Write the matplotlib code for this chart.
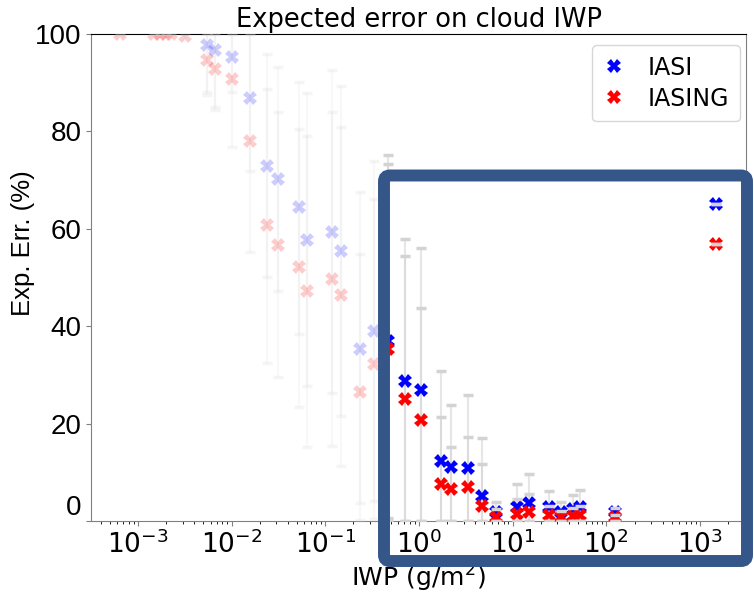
import numpy as np
import matplotlib.pyplot as plt
from matplotlib.patches import FancyBboxPatch

nan = np.nan
# IWP bin centres (g/m2) and expected error (%) for the two instruments
iwp = [6.5e-4, 1.48e-3, 1.71e-3, 1.99e-3, 2.24e-3, 3.22e-3, 5.53e-3, 6.73e-3,
       1.00e-2, 1.59e-2, 2.36e-2, 3.13e-2, 5.18e-2, 6.40e-2, 0.118, 0.149,
       0.235, 0.335, 0.465, 0.705, 1.06, 1.71, 2.22, 3.30, 4.71, 6.71,
       11.25, 14.96, 24.3, 32.4, 44.1, 52.0, 125.0, 1472.0]
iasi = [nan, nan, nan, nan, nan, nan, 97.7, 96.8, 95.2, 86.9, 72.9, 70.3,
        64.4, 57.8, 59.4, 55.4, 35.3, 39.1, 37.0, 28.8, 27.0, 12.3, 11.0,
        10.9, 5.1, 1.9, 2.9, 3.8, 2.8, 1.9, 2.4, 2.9, 1.9, 65.2]
iasing = [100, 100, 100, 100, 100, 99.5, 94.6, 92.8, 90.7, 78.1, 60.7, 56.6,
          52.1, 47.2, 49.8, 46.4, 26.4, 32.3, 35.4, 25.0, 20.7, 7.7, 6.5,
          6.9, 3.1, 0.8, 1.4, 1.9, 1.2, 0.8, 1.0, 1.2, 0.9, 56.9]
iasi_hi = [nan, nan, nan, nan, nan, nan, 100, 100, 100, 100, 95.8, 93.2,
           90.2, 87.8, 92.6, 89.3, 67.5, 74.0, 75.2, 57.9, 56.0, 30.9, 23.8,
           25.9, 17.0, 4.0, 7.7, 9.7, 6.2, 4.0, 5.3, 6.4, 2.7, 65.2]
iasing_hi = [100, 100, 100, 100, 100, 100, 100, 100, 100, 100, 88.8, 84.0,
             80.5, 79.1, 84.0, 81.0, 54.9, 66.2, 73.4, 54.4, 43.7, 21.3, 15.3,
             17.2, 11.8, 2.5, 4.5, 5.5, 3.1, 2.1, 2.7, 3.1, 1.2, 56.9]
iasi_lo = [nan, nan, nan, nan, nan, nan, 88.0, 85.0, 88.1, 71.9, 50.1, 47.3,
           38.5, 27.8, 26.3, 21.5, 3.6, 4.2, 0.7, 0, 0, 0, 0, 0, 0, 0, 0, 0,
           0, 0, 0, 0, 0, 65.2]
iasing_lo = [100, 100, 100, 100, 100, 99.0, 87.5, 84.5, 76.9, 55.3, 32.5, 29.5,
             23.5, 15.2, 15.5, 11.4, 0.3, 0.5, 0.3, 0, 0, 0, 0, 0, 0, 0, 0, 0,
             0, 0, 0, 0, 0, 56.9]
xticks = [1e-3, 1e-2, 1e-1, 1e0, 1e1, 1e2, 1e3]
yticks = [0, 20, 40, 60, 80, 100]

fig = plt.figure(figsize=(7.54, 5.96), dpi=100)
ax = fig.add_axes([0.1207, 0.1258, 0.8687, 0.8171])

x = np.array(iwp)
focus = x > 0.4
series = [(iasi, iasi_lo, iasi_hi, 'blue', 'IASI'),
          (iasing, iasing_lo, iasing_hi, 'red', 'IASING')]
for vals, lo, hi, col, lab in series:
    vals = np.array(vals, dtype=float)
    ok = ~np.isnan(vals)
    yerr = np.vstack([vals - np.array(lo), np.array(hi) - vals])
    for mask, a in [(~focus & ok, 0.2), (focus & ok, 1.0)]:
        _, caps, bars = ax.errorbar(x[mask], vals[mask], yerr=yerr[:, mask], fmt='none',
                                    ecolor='lightgray', elinewidth=1.5, capsize=3.5,
                                    capthick=2.5)
        bars[0].set_alpha(0.55 if a == 1 else 0.15)
        bars[0].set_zorder(1)
        for c in caps:
            c.set_color('black')
            c.set_alpha(1 if a == 1 else 0.22)
            c.set_zorder(3)
        ax.plot(x[mask], vals[mask], 'X', color=col, alpha=a, ms=9.5, mew=0,
                label=lab if a == 1 else None, zorder=2)

ax.set_xscale('log')
ax.set_xlim(10**-3.5, 10**3.49)
ax.set_xticks(xticks)
ax.set_ylim(0, 100)
ax.set_yticks(yticks)
ax.tick_params(axis='both', colors='#808080', labelcolor='black')
ax.tick_params(axis='x', labelsize=19)
ax.tick_params(axis='y', labelsize=20)
for lbl in ax.get_yticklabels():
    lbl.set_fontfamily('Liberation Sans')
ax.get_yticklabels()[0].set_va('bottom')
for s in ['left', 'bottom', 'right']:
    ax.spines[s].set_color('#808080')
ax.spines['top'].set_color('black')

ax.set_title('Expected error on cloud IWP', fontsize=18.5, pad=5)
ax.set_xlabel('IWP (g/m$^2$)', fontsize=18, labelpad=2)
ax.set_ylabel('Exp. Err. (%)', fontsize=18.5, family='Liberation Sans')
ax.yaxis.set_label_coords(-0.0855, 0.57)

ax.legend(loc='upper right', bbox_to_anchor=(0.9908, 0.9774), borderaxespad=0,
          fontsize=17, handlelength=0.9, handletextpad=1.0, borderpad=0.45,
          labelspacing=0.3)

# highlight frame around the high-IWP region
frame = FancyBboxPatch((3.84, 0.35), 3.63, 3.855,
                       boxstyle='round,pad=0,rounding_size=0.06',
                       transform=fig.dpi_scale_trans, facecolor='none',
                       edgecolor='#355689', linewidth=8.6, zorder=10)
fig.add_artist(frame)

fig.savefig('out.png', dpi=100)
